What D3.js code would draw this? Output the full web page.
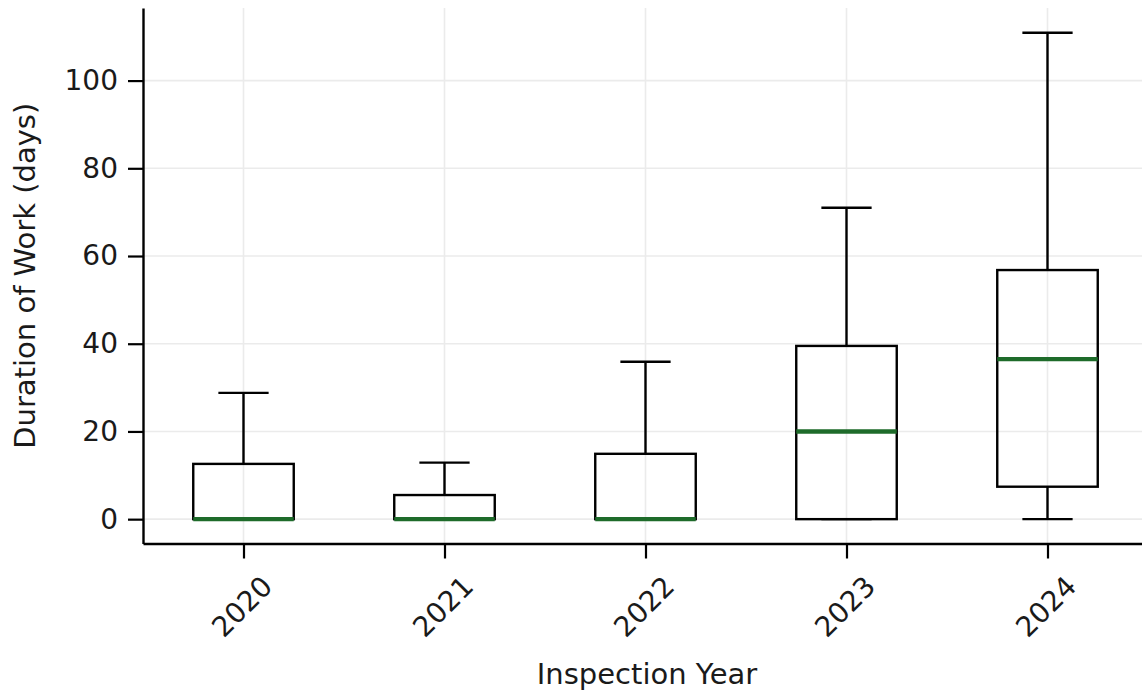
<!DOCTYPE html>
<html>
<head>
<meta charset="utf-8">
<script src="https://cdn.jsdelivr.net/npm/d3@7"></script>
<style>
  html, body { margin: 0; padding: 0; background: #fff; }
  svg { display: block; }
  text { font-family: "DejaVu Sans", sans-serif; fill: #1a1a1a; }
</style>
</head>
<body>
<svg id="chart" width="1142" height="691"></svg>
<script>
// ---- Data ----
const years        = ["2020", "2021", "2022", "2023", "2024"];
const whiskerLow   = [0, 0, 0, 0, 0];
const q1           = [0, 0, 0, 0, 7.4];
const median       = [0, 0, 0, 20, 36.5];
const q3           = [12.6, 5.5, 14.9, 39.5, 56.8];
const whiskerHigh  = [28.8, 12.9, 35.9, 71, 110.9];
const yTicks       = [0, 20, 40, 60, 80, 100];
const xLabel = "Inspection Year";
const yLabel = "Duration of Work (days)";

const rows = years.map((yr, i) => ({
  year: yr, lo: whiskerLow[i], q1: q1[i], med: median[i], q3: q3[i], hi: whiskerHigh[i]
}));

// ---- Layout ----
const pL = 143, pR = 1148, pT = 8, pB = 543.5;
const svg = d3.select("#chart");

const x = d3.scalePoint().domain(years).range([pL, pR]).padding(0.5);
const step = x.step();
const y = d3.scaleLinear().domain([-5.55, 116.55]).range([pB, pT]);

const fontSize = 28;

// grid
const grid = svg.append("g");
grid.selectAll("line.h").data(yTicks).join("line")
  .attr("x1", pL).attr("x2", pR)
  .attr("y1", d => y(d)).attr("y2", d => y(d))
  .attr("stroke", "#ebebeb").attr("stroke-width", 1.6);
grid.selectAll("line.v").data(years).join("line")
  .attr("x1", d => x(d)).attr("x2", d => x(d))
  .attr("y1", pT).attr("y2", pB)
  .attr("stroke", "#ebebeb").attr("stroke-width", 1.6);

// boxes
const boxW = step * 0.5, capW = step * 0.25;
const g = svg.append("g").selectAll("g").data(rows).join("g");
const stroke = "#000", sw = 2.4;
// whiskers
g.append("line")
  .attr("x1", d => x(d.year)).attr("x2", d => x(d.year))
  .attr("y1", d => y(d.q3)).attr("y2", d => y(d.hi))
  .attr("stroke", stroke).attr("stroke-width", sw);
g.append("line")
  .attr("x1", d => x(d.year)).attr("x2", d => x(d.year))
  .attr("y1", d => y(d.q1)).attr("y2", d => y(d.lo))
  .attr("stroke", stroke).attr("stroke-width", sw);
// caps
g.append("line")
  .attr("x1", d => x(d.year) - capW / 2).attr("x2", d => x(d.year) + capW / 2)
  .attr("y1", d => y(d.hi)).attr("y2", d => y(d.hi))
  .attr("stroke", stroke).attr("stroke-width", sw);
g.append("line")
  .attr("x1", d => x(d.year) - capW / 2).attr("x2", d => x(d.year) + capW / 2)
  .attr("y1", d => y(d.lo)).attr("y2", d => y(d.lo))
  .attr("stroke", stroke).attr("stroke-width", sw);
// box
g.append("rect")
  .attr("x", d => x(d.year) - boxW / 2).attr("width", boxW)
  .attr("y", d => y(d.q3)).attr("height", d => y(d.q1) - y(d.q3))
  .attr("fill", "none").attr("stroke", stroke).attr("stroke-width", sw);
// median
g.append("line")
  .attr("x1", d => x(d.year) - boxW / 2).attr("x2", d => x(d.year) + boxW / 2)
  .attr("y1", d => y(d.med)).attr("y2", d => y(d.med))
  .attr("stroke", "#1e6b2a").attr("stroke-width", 4.4);

// axes
const yAxis = svg.append("g").attr("transform", `translate(${pL},0)`)
  .call(d3.axisLeft(y).tickValues(yTicks).tickSize(15).tickPadding(10).tickSizeOuter(0));
yAxis.select(".domain").attr("stroke", "#000").attr("stroke-width", 2.4);
yAxis.selectAll(".tick line").attr("stroke", "#000").attr("stroke-width", 2.2);
yAxis.selectAll(".tick text").style("font-size", fontSize + "px")
  .style("font-family", '"DejaVu Sans", sans-serif').attr("fill", "#1a1a1a");

const xAxis = svg.append("g").attr("transform", `translate(0,${pB})`)
  .call(d3.axisBottom(x).tickSize(15).tickSizeOuter(0));
xAxis.select(".domain").attr("stroke", "#000").attr("stroke-width", 2.4);
xAxis.selectAll(".tick line").attr("stroke", "#000").attr("stroke-width", 2.2);
xAxis.selectAll(".tick text")
  .style("font-size", fontSize + "px")
  .style("font-family", '"DejaVu Sans", sans-serif').attr("fill", "#1a1a1a")
  .attr("y", 0).attr("dy", "0.35em")
  .attr("text-anchor", "middle")
  .attr("transform", "translate(-2,63) rotate(-45)");

// axis labels
svg.append("text")
  .attr("x", 647).attr("y", 684)
  .attr("text-anchor", "middle")
  .style("font-size", "29px")
  .text(xLabel);
svg.append("text")
  .attr("transform", `translate(35,${(pT + pB) / 2}) rotate(-90)`)
  .attr("text-anchor", "middle")
  .style("font-size", "29px")
  .text(yLabel);
</script>
</body>
</html>
